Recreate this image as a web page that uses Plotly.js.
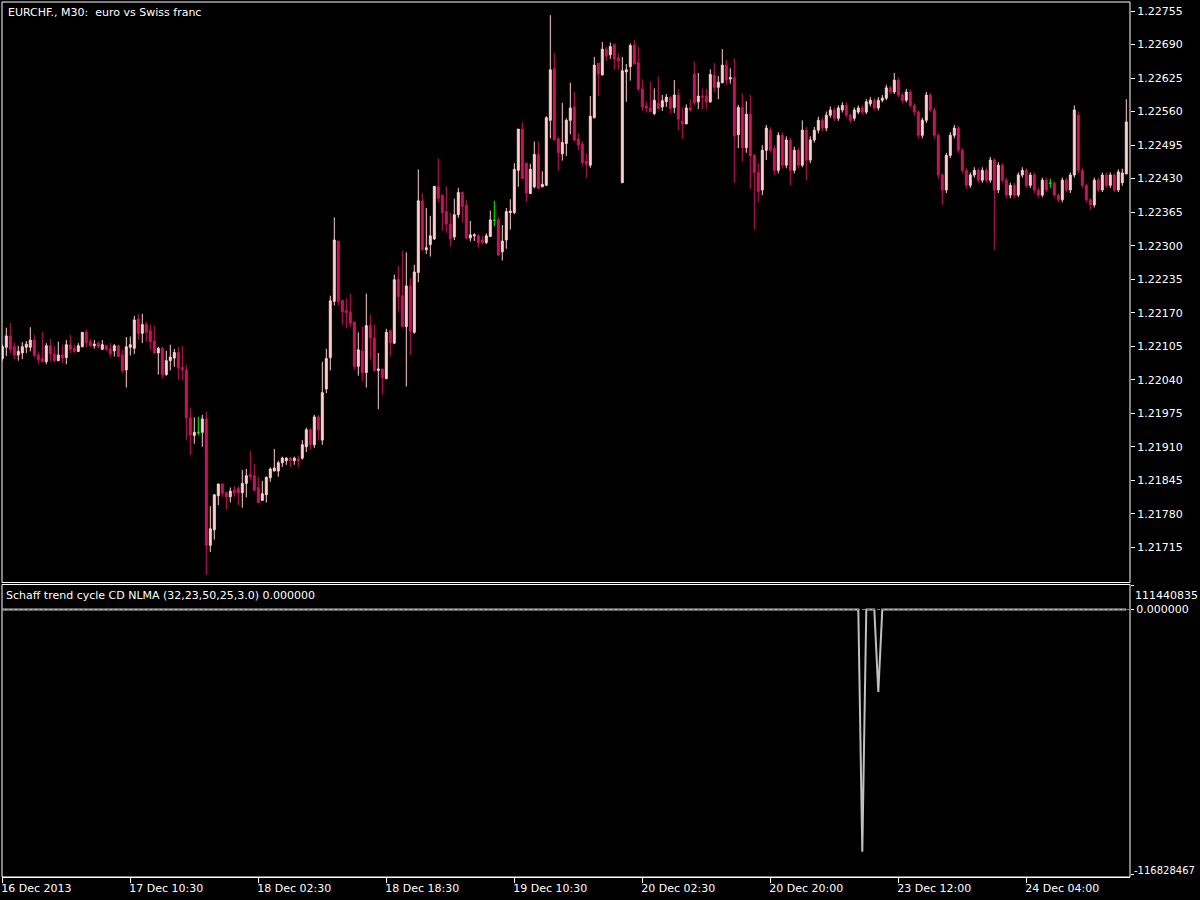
<!DOCTYPE html>
<html><head><meta charset="utf-8">
<script src="https://cdn.plot.ly/plotly-3.0.1.min.js"></script>
<style>html,body{margin:0;padding:0;background:#000;} #chart{width:1200px;height:900px;}</style>
</head><body><div id="chart"></div>
<script>
const openP = [
1.22081,1.22103,1.22125,1.22104,1.22088,1.22092,1.22103,1.22103,1.22117,1.22088,
1.22081,1.22075,1.22106,1.22090,1.22077,1.22088,1.22083,1.22108,1.22101,1.22095,
1.22104,1.22132,1.22114,1.22106,1.22111,1.22099,1.22106,1.22100,1.22096,1.22106,
1.22088,1.22059,1.22103,1.22101,1.22158,1.22130,1.22147,1.22135,1.22115,1.22092,
1.22101,1.22050,1.22077,1.22082,1.22093,1.22064,1.22059,1.21966,1.21932,1.21938,
1.21938,1.21964,1.21719,1.21749,1.21815,1.21838,1.21821,1.21813,1.21826,1.21829,
1.21821,1.21839,1.21856,1.21854,1.21831,1.21806,1.21817,1.21850,1.21863,1.21863,
1.21879,1.21883,1.21888,1.21883,1.21886,1.21888,1.21910,1.21943,1.21914,1.21968,
1.21923,1.22022,1.22083,1.22192,1.22309,1.22194,1.22174,1.22171,1.22152,1.22066,
1.22096,1.22054,1.22145,1.22121,1.22058,1.22061,1.22042,1.22135,1.22111,1.22235,
1.22203,1.22143,1.22222,1.22132,1.22248,1.22387,1.22292,1.22302,1.22313,1.22414,
1.22398,1.22366,1.22342,1.22317,1.22360,1.22403,1.22378,1.22315,1.22319,1.22319,
1.22311,1.22306,1.22318,1.22349,1.22350,1.22288,1.22311,1.22364,1.22364,1.22446,
1.22526,1.22460,1.22401,1.22414,1.22477,1.22414,1.22417,1.22543,1.22643,1.22507,
1.22478,1.22498,1.22543,1.22569,1.22507,1.22497,1.22463,1.22456,1.22548,1.22654,
1.22631,1.22681,1.22670,1.22690,1.22664,1.22422,1.22637,1.22647,1.22689,1.22655,
1.22604,1.22571,1.22567,1.22556,1.22576,1.22569,1.22579,1.22587,1.22568,1.22592,
1.22541,1.22536,1.22567,1.22633,1.22579,1.22590,1.22590,1.22579,1.22631,1.22607,
1.22616,1.22650,1.22623,1.22626,1.22515,1.22568,1.22490,1.22555,1.22476,1.22442,
1.22408,1.22485,1.22524,1.22489,1.22446,1.22514,1.22456,1.22505,1.22446,1.22485,
1.22456,1.22524,1.22466,1.22505,1.22524,1.22543,1.22528,1.22553,1.22563,1.22547,
1.22563,1.22572,1.22553,1.22547,1.22559,1.22567,1.22559,1.22575,1.22582,1.22567,
1.22582,1.22586,1.22606,1.22598,1.22621,1.22592,1.22582,1.22598,1.22572,1.22559,
1.22514,1.22543,1.22592,1.22563,1.22514,1.22437,1.22408,1.22475,1.22514,1.22528,
1.22485,1.22446,1.22417,1.22437,1.22446,1.22427,1.22446,1.22427,1.22466,1.22408,
1.22456,1.22427,1.22398,1.22417,1.22398,1.22437,1.22446,1.22417,1.22437,1.22408,
1.22398,1.22427,1.22421,1.22421,1.22398,1.22389,1.22427,1.22408,1.22437,1.22553,
1.22446,1.22417,1.22389,1.22379,1.22427,1.22408,1.22437,1.22417,1.22437,1.22408,
1.22422,1.22439];
const highP = [
1.22108,1.22141,1.22150,1.22112,1.22106,1.22113,1.22115,1.22142,1.22127,1.22095,
1.22133,1.22111,1.22119,1.22106,1.22114,1.22108,1.22117,1.22127,1.22108,1.22111,
1.22132,1.22137,1.22119,1.22117,1.22114,1.22117,1.22108,1.22111,1.22109,1.22108,
1.22098,1.22123,1.22124,1.22164,1.22168,1.22168,1.22152,1.22147,1.22145,1.22104,
1.22104,1.22096,1.22108,1.22100,1.22104,1.22106,1.22069,1.21985,1.21967,1.21968,
1.21972,1.21978,1.21795,1.21817,1.21838,1.21838,1.21823,1.21831,1.21834,1.21833,
1.21865,1.21867,1.21902,1.21877,1.21852,1.21844,1.21852,1.21870,1.21906,1.21883,
1.21891,1.21890,1.21890,1.21891,1.21893,1.21923,1.21947,1.21947,1.21972,1.21972,
1.22075,1.22100,1.22203,1.22355,1.22309,1.22194,1.22198,1.22207,1.22152,1.22132,
1.22143,1.22207,1.22166,1.22148,1.22092,1.22061,1.22139,1.22135,1.22244,1.22261,
1.22290,1.22287,1.22237,1.22263,1.22448,1.22401,1.22373,1.22358,1.22415,1.22469,
1.22398,1.22415,1.22363,1.22391,1.22412,1.22405,1.22389,1.22348,1.22324,1.22323,
1.22319,1.22324,1.22368,1.22387,1.22355,1.22340,1.22373,1.22390,1.22460,1.22526,
1.22539,1.22460,1.22459,1.22502,1.22502,1.22444,1.22551,1.22747,1.22674,1.22511,
1.22577,1.22547,1.22616,1.22598,1.22518,1.22503,1.22479,1.22590,1.22666,1.22654,
1.22695,1.22686,1.22694,1.22692,1.22673,1.22666,1.22652,1.22692,1.22699,1.22686,
1.22623,1.22580,1.22618,1.22605,1.22628,1.22592,1.22594,1.22590,1.22621,1.22604,
1.22568,1.22574,1.22584,1.22657,1.22635,1.22605,1.22604,1.22642,1.22654,1.22629,
1.22681,1.22660,1.22644,1.22663,1.22573,1.22595,1.22580,1.22592,1.22476,1.22460,
1.22495,1.22534,1.22530,1.22495,1.22520,1.22520,1.22512,1.22510,1.22492,1.22490,
1.22543,1.22530,1.22512,1.22530,1.22550,1.22548,1.22560,1.22570,1.22568,1.22572,
1.22578,1.22578,1.22556,1.22568,1.22572,1.22572,1.22584,1.22588,1.22586,1.22588,
1.22592,1.22612,1.22610,1.22635,1.22626,1.22596,1.22604,1.22602,1.22576,1.22563,
1.22548,1.22598,1.22596,1.22568,1.22518,1.22440,1.22480,1.22520,1.22534,1.22532,
1.22490,1.22450,1.22442,1.22452,1.22450,1.22452,1.22452,1.22472,1.22470,1.22462,
1.22460,1.22432,1.22422,1.22422,1.22442,1.22452,1.22450,1.22442,1.22442,1.22412,
1.22432,1.22432,1.22430,1.22425,1.22402,1.22432,1.22432,1.22442,1.22572,1.22560,
1.22450,1.22420,1.22392,1.22432,1.22432,1.22442,1.22442,1.22442,1.22440,1.22448,
1.22449,1.22584];
const lowP = [
1.22077,1.22086,1.22092,1.22080,1.22077,1.22080,1.22092,1.22095,1.22083,1.22070,
1.22074,1.22070,1.22075,1.22074,1.22077,1.22072,1.22070,1.22092,1.22092,1.22094,
1.22103,1.22103,1.22104,1.22100,1.22101,1.22098,1.22096,1.22083,1.22085,1.22084,
1.22053,1.22025,1.22087,1.22090,1.22119,1.22111,1.22114,1.22098,1.22090,1.22050,
1.22043,1.22048,1.22058,1.22065,1.22040,1.22039,1.21923,1.21894,1.21916,1.21933,
1.21910,1.21662,1.21706,1.21730,1.21797,1.21813,1.21788,1.21802,1.21813,1.21797,
1.21792,1.21812,1.21845,1.21823,1.21802,1.21806,1.21802,1.21842,1.21863,1.21852,
1.21871,1.21875,1.21871,1.21875,1.21870,1.21885,1.21900,1.21904,1.21908,1.21923,
1.21914,1.22014,1.22058,1.22184,1.22184,1.22147,1.22140,1.22143,1.22059,1.22048,
1.22037,1.22025,1.22079,1.22056,1.21983,1.22011,1.22042,1.22087,1.22109,1.22172,
1.22143,1.22027,1.22088,1.22129,1.22229,1.22290,1.22284,1.22279,1.22311,1.22384,
1.22329,1.22325,1.22298,1.22311,1.22354,1.22345,1.22313,1.22308,1.22309,1.22296,
1.22303,1.22303,1.22317,1.22338,1.22280,1.22271,1.22294,1.22331,1.22361,1.22414,
1.22430,1.22385,1.22400,1.22411,1.22410,1.22414,1.22417,1.22508,1.22505,1.22446,
1.22465,1.22474,1.22516,1.22502,1.22485,1.22454,1.22432,1.22451,1.22547,1.22590,
1.22630,1.22658,1.22662,1.22641,1.22641,1.22422,1.22579,1.22620,1.22652,1.22599,
1.22562,1.22558,1.22560,1.22553,1.22565,1.22561,1.22569,1.22557,1.22557,1.22524,
1.22507,1.22536,1.22560,1.22572,1.22565,1.22565,1.22565,1.22577,1.22597,1.22584,
1.22615,1.22612,1.22614,1.22422,1.22489,1.22463,1.22480,1.22410,1.22332,1.22384,
1.22398,1.22466,1.22480,1.22437,1.22440,1.22450,1.22450,1.22417,1.22440,1.22450,
1.22452,1.22427,1.22460,1.22500,1.22518,1.22522,1.22522,1.22548,1.22542,1.22542,
1.22558,1.22548,1.22538,1.22542,1.22555,1.22554,1.22555,1.22570,1.22562,1.22562,
1.22578,1.22582,1.22594,1.22594,1.22588,1.22576,1.22578,1.22568,1.22552,1.22508,
1.22508,1.22538,1.22558,1.22508,1.22430,1.22379,1.22402,1.22470,1.22508,1.22480,
1.22440,1.22410,1.22412,1.22432,1.22422,1.22422,1.22422,1.22422,1.22292,1.22402,
1.22422,1.22392,1.22392,1.22392,1.22394,1.22432,1.22412,1.22412,1.22402,1.22392,
1.22394,1.22404,1.22412,1.22394,1.22384,1.22384,1.22404,1.22402,1.22432,1.22440,
1.22412,1.22384,1.22370,1.22374,1.22404,1.22404,1.22412,1.22412,1.22404,1.22404,
1.22416,1.22439];
const closeP = [
1.22104,1.22125,1.22099,1.22088,1.22095,1.22104,1.22109,1.22117,1.22087,1.22079,
1.22075,1.22106,1.22090,1.22077,1.22088,1.22082,1.22108,1.22099,1.22095,1.22106,
1.22132,1.22112,1.22106,1.22109,1.22104,1.22108,1.22099,1.22090,1.22106,1.22085,
1.22058,1.22104,1.22108,1.22156,1.22130,1.22147,1.22132,1.22114,1.22092,1.22101,
1.22050,1.22077,1.22084,1.22093,1.22063,1.22059,1.21966,1.21933,1.21938,1.21938,
1.21964,1.21719,1.21751,1.21817,1.21838,1.21820,1.21813,1.21824,1.21821,1.21821,
1.21839,1.21854,1.21852,1.21826,1.21802,1.21819,1.21851,1.21867,1.21869,1.21879,
1.21888,1.21888,1.21883,1.21888,1.21883,1.21914,1.21943,1.21914,1.21968,1.21943,
1.22015,1.22081,1.22193,1.22311,1.22192,1.22172,1.22170,1.22150,1.22066,1.22098,
1.22054,1.22145,1.22121,1.22058,1.22061,1.22044,1.22132,1.22112,1.22234,1.22201,
1.22143,1.22222,1.22134,1.22249,1.22387,1.22292,1.22296,1.22319,1.22415,1.22392,
1.22364,1.22342,1.22313,1.22360,1.22403,1.22376,1.22315,1.22321,1.22321,1.22306,
1.22306,1.22319,1.22350,1.22349,1.22282,1.22309,1.22366,1.22367,1.22448,1.22526,
1.22430,1.22402,1.22448,1.22477,1.22411,1.22419,1.22548,1.22641,1.22505,1.22480,
1.22500,1.22543,1.22567,1.22505,1.22495,1.22461,1.22458,1.22551,1.22650,1.22633,
1.22681,1.22668,1.22686,1.22662,1.22658,1.22639,1.22641,1.22688,1.22652,1.22604,
1.22569,1.22567,1.22560,1.22582,1.22566,1.22581,1.22588,1.22566,1.22592,1.22545,
1.22536,1.22567,1.22563,1.22577,1.22590,1.22588,1.22579,1.22632,1.22607,1.22617,
1.22650,1.22621,1.22626,1.22513,1.22568,1.22490,1.22555,1.22474,1.22442,1.22405,
1.22485,1.22528,1.22485,1.22446,1.22514,1.22456,1.22505,1.22446,1.22485,1.22456,
1.22524,1.22466,1.22505,1.22524,1.22543,1.22528,1.22553,1.22563,1.22547,1.22567,
1.22572,1.22553,1.22543,1.22563,1.22567,1.22559,1.22579,1.22582,1.22567,1.22582,
1.22586,1.22606,1.22598,1.22621,1.22592,1.22582,1.22598,1.22572,1.22559,1.22514,
1.22543,1.22592,1.22563,1.22514,1.22437,1.22408,1.22475,1.22514,1.22528,1.22485,
1.22446,1.22417,1.22437,1.22446,1.22427,1.22446,1.22427,1.22466,1.22408,1.22456,
1.22427,1.22398,1.22417,1.22398,1.22437,1.22446,1.22417,1.22437,1.22408,1.22398,
1.22427,1.22408,1.22421,1.22398,1.22389,1.22427,1.22408,1.22437,1.22563,1.22446,
1.22417,1.22389,1.22379,1.22427,1.22408,1.22437,1.22417,1.22437,1.22408,1.22443,
1.22441,1.22540];

const timeTickIdx = [0, 32, 64, 96, 128, 160, 192, 224, 256];
const timeTickText = ['16 Dec 2013', '17 Dec 10:30', '18 Dec 02:30', '18 Dec 18:30',
  '19 Dec 10:30', '20 Dec 02:30', '20 Dec 20:00', '23 Dec 12:00', '24 Dec 04:00'];
const priceTicks = [1.21715, 1.21780, 1.21845, 1.21910, 1.21975, 1.22040, 1.22105, 1.22170,
  1.22235, 1.22300, 1.22365, 1.22430, 1.22495, 1.22560, 1.22625, 1.22690, 1.22755];

// Schaff trend cycle indicator: flat at 0 except two dips
const stcX = [0, 214, 215, 216, 218, 219, 220, 281];
const stcY = [0, 0, -106576000, 0, 0, -36302640, 0, 0];
const stcTickVals = [10340750, 0, -116828467];
const stcTickText = ['', '0.000000', ''];
const stcTopLabel = '111440835';
const stcBottomLabel = '-116828467';

const BULL = 'rgb(255,205,205)';
const BEAR = 'rgb(199,21,90)';
const DOJI = '#00FF00';
const FONT = {family: 'DejaVu Sans', size: 11, color: '#FFFFFF'};

const idx = openP.map((_, i) => i);
const mainIdx = idx.filter(i => openP[i] !== closeP[i]);
const dojiIdx = idx.filter(i => openP[i] === closeP[i]);
const pick = (arr, ids) => ids.map(i => arr[i]);

const candles = {
  type: 'candlestick', xaxis: 'x', yaxis: 'y',
  x: mainIdx, open: pick(openP, mainIdx), high: pick(highP, mainIdx),
  low: pick(lowP, mainIdx), close: pick(closeP, mainIdx),
  increasing: {line: {color: BULL, width: 1}, fillcolor: BULL},
  decreasing: {line: {color: BEAR, width: 1}, fillcolor: BEAR},
  whiskerwidth: 0, hoverinfo: 'skip', showlegend: false
};
const dojis = {
  type: 'candlestick', xaxis: 'x', yaxis: 'y',
  x: dojiIdx, open: pick(openP, dojiIdx), high: pick(highP, dojiIdx),
  low: pick(lowP, dojiIdx), close: pick(closeP, dojiIdx),
  increasing: {line: {color: DOJI, width: 1}, fillcolor: DOJI},
  decreasing: {line: {color: DOJI, width: 1}, fillcolor: DOJI},
  whiskerwidth: 0, hoverinfo: 'skip', showlegend: false
};
const stc = {
  type: 'scatter', mode: 'lines', xaxis: 'x', yaxis: 'y2',
  x: stcX, y: stcY, line: {color: '#C0C0C0', width: 2},
  hoverinfo: 'skip', showlegend: false
};

const MAIN_DOMAIN = [0.33657, 1];
const SUB_DOMAIN = [0, 0.33429];

const layout = {
  width: 1200, height: 900,
  margin: {l: 2, r: 70, t: 2, b: 23, pad: 0},
  paper_bgcolor: '#000000', plot_bgcolor: '#000000',
  showlegend: false, hovermode: false, font: FONT,
  boxgap: 0.3, boxgroupgap: 0.3,
  xaxis: {
    type: 'linear', range: [-0.075, 281.925], anchor: 'y2',
    showgrid: false, zeroline: false, showline: true, linecolor: '#FFFFFF', linewidth: 1,
    ticks: 'outside', ticklen: 5, tickwidth: 1, tickcolor: '#FFFFFF',
    tickmode: 'array', tickvals: timeTickIdx, ticktext: timeTickText,
    ticklabelposition: 'outside right', ticklabelshift: -2, ticklabelstandoff: 1, tickfont: FONT,
    rangeslider: {visible: false}, fixedrange: true
  },
  yaxis: {
    domain: MAIN_DOMAIN, anchor: 'x', side: 'right', range: [1.216469, 1.2277245],
    tickmode: 'array', tickvals: priceTicks, tickformat: '.5f',
    ticks: 'outside', ticklen: 4, tickwidth: 1, tickcolor: '#FFFFFF',
    showgrid: false, zeroline: false, showline: false, tickfont: FONT, fixedrange: true
  },
  yaxis2: {
    domain: SUB_DOMAIN, anchor: 'x', side: 'right', range: [-117708560, 11000800],
    tickmode: 'array', tickvals: stcTickVals, ticktext: stcTickText,
    ticks: 'outside', ticklen: 3, tickwidth: 1, tickcolor: '#FFFFFF',
    showgrid: false, zeroline: false, showline: false, tickfont: FONT, fixedrange: true
  },
  shapes: [
    {type: 'rect', xref: 'paper', yref: 'paper', x0: 0, x1: 1, y0: MAIN_DOMAIN[0], y1: MAIN_DOMAIN[1],
     line: {color: '#FFFFFF', width: 1}, fillcolor: 'rgba(0,0,0,0)', layer: 'above'},
    {type: 'rect', xref: 'paper', yref: 'paper', x0: 0, x1: 1, y0: SUB_DOMAIN[0], y1: SUB_DOMAIN[1],
     line: {color: '#FFFFFF', width: 1}, fillcolor: 'rgba(0,0,0,0)', layer: 'above'},
    {type: 'line', xref: 'paper', x0: 0, x1: 1, yref: 'y2', y0: 0, y1: 0,
     line: {color: '#778899', width: 1, dash: '3px,2px'}, layer: 'above'}
  ],
  annotations: [
    {xref: 'paper', yref: 'paper', x: 0, y: 1, xanchor: 'left', yanchor: 'top',
     xshift: 4, yshift: -2, showarrow: false, font: FONT,
     text: 'EURCHF., M30:\u00a0 euro vs Swiss franc'},
    {xref: 'paper', yref: 'paper', x: 0, y: SUB_DOMAIN[1], xanchor: 'left', yanchor: 'top',
     xshift: 2, yshift: -3, showarrow: false, font: FONT,
     text: 'Schaff trend cycle CD NLMA (32,23,50,25,3.0) 0.000000'},
    {xref: 'paper', yref: 'paper', x: 1, y: (877 - 595) / 875, xanchor: 'left', yanchor: 'middle',
     xshift: 3, showarrow: false, font: FONT, text: stcTopLabel},
    {xref: 'paper', yref: 'paper', x: 1, y: (877 - 870) / 875, xanchor: 'left', yanchor: 'middle',
     xshift: 2, showarrow: false, font: {family: 'DejaVu Sans', size: 10, color: '#FFFFFF'},
     text: stcBottomLabel}
  ]
};

Plotly.newPlot('chart', [candles, dojis, stc], layout, {displayModeBar: false, staticPlot: true});
</script>
</body></html>
